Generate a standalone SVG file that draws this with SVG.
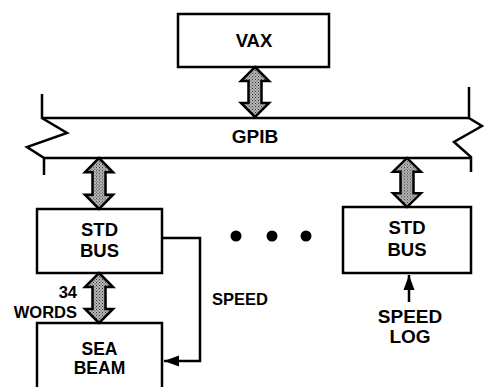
<svg xmlns="http://www.w3.org/2000/svg" width="484" height="387" viewBox="0 0 484 387">
<style>
.box{fill:#fff;stroke:#000;stroke-width:2.5}
.ln{fill:none;stroke:#000;stroke-width:2.5;stroke-linejoin:miter}
.lab{font-family:"Liberation Sans",Arial,sans-serif;font-weight:bold;fill:#000;text-anchor:middle}
.dbl{fill:url(#dots);stroke:#000;stroke-width:2.5;stroke-linejoin:miter}
</style>
<defs>
<pattern id="dots" width="3" height="3" patternUnits="userSpaceOnUse">
<rect width="3" height="3" fill="#b8b8b8"/>
<rect x="0" y="0" width="1" height="1" fill="#333"/>
<rect x="1.5" y="1.5" width="1" height="1" fill="#444"/>
</pattern>
<path id="dbl50" d="M0,0 L14,14 L6.5,14 L6.5,36 L14,36 L0,50 L-14,36 L-6.5,36 L-6.5,14 L-14,14 Z"/>
<marker id="ah" markerWidth="16" markerHeight="12" refX="15" refY="6" orient="auto" markerUnits="userSpaceOnUse">
<path d="M0,0.5 L15,6 L0,11.5 Z" fill="#000"/>
</marker>
</defs>

<g id="gpib">
<path class="ln" d="M42,94 L42,118 L67,133 L27,147 L44,158 L44,175"/>
<path class="ln" d="M469,87 L469,118 L482,126 L454,142 L471,157 L471,172"/>
<line class="ln" x1="42" y1="118" x2="469" y2="118"/>
<line class="ln" x1="44" y1="158" x2="471" y2="158"/>
<text class="lab" x="255" y="143" font-size="19">GPIB</text>
</g>

<g id="vax">
<rect class="box" x="178" y="14" width="151" height="53"/>
<text class="lab" x="254" y="47" font-size="18.5">VAX</text>
</g>

<g id="stdbus1">
<rect class="box" x="37" y="209" width="125" height="64"/>
<text class="lab" x="99.5" y="236" font-size="18.5">STD</text>
<text class="lab" x="99.5" y="257" font-size="18.5">BUS</text>
</g>

<g id="seabeam">
<rect class="box" x="37" y="323" width="125" height="75"/>
<text class="lab" x="99.5" y="355" font-size="17.5">SEA</text>
<text class="lab" x="99.5" y="374" font-size="17.5">BEAM</text>
</g>

<g id="stdbus2">
<rect class="box" x="343" y="207" width="128" height="66"/>
<text class="lab" x="407" y="234" font-size="18.5">STD</text>
<text class="lab" x="407" y="256" font-size="18.5">BUS</text>
</g>

<g id="ellipsis">
<circle cx="236" cy="236" r="5.5"/>
<circle cx="272" cy="236" r="5.5"/>
<circle cx="306" cy="236" r="5.5"/>
</g>

<g id="connectors">
<use href="#dbl50" class="dbl" transform="translate(255,67)"/>
<use href="#dbl50" class="dbl" transform="translate(99,158) scale(1,1.02)"/>
<use href="#dbl50" class="dbl" transform="translate(407,158) scale(1,0.98)"/>
<use href="#dbl50" class="dbl" transform="translate(99,273)"/>
<path class="ln" d="M162,238 L200,238 L200,361 L164,361" marker-end="url(#ah)"/>
<line class="ln" x1="409" y1="302" x2="409" y2="275" marker-end="url(#ah)"/>
<text class="lab" x="77" y="298" font-size="16.5" text-anchor="end" style="text-anchor:end">34</text>
<text class="lab" x="77" y="318" font-size="16.5" style="text-anchor:end">WORDS</text>
<text class="lab" x="212" y="305" font-size="16.5" style="text-anchor:start">SPEED</text>
<text class="lab" x="410" y="323" font-size="19">SPEED</text>
<text class="lab" x="410" y="343" font-size="19">LOG</text>
</g>
</svg>
